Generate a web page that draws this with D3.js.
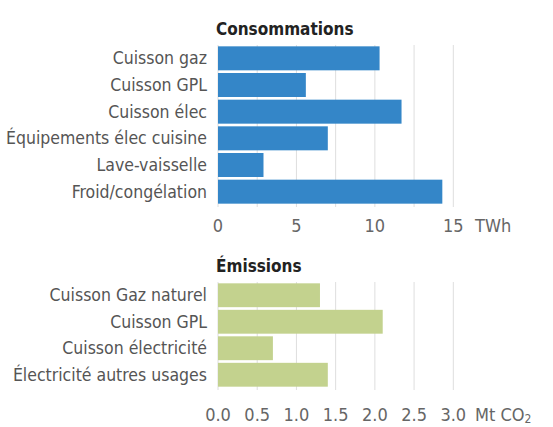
<!DOCTYPE html>
<html>
<head>
<meta charset="utf-8">
<script src="https://cdn.jsdelivr.net/npm/d3@7"></script>
<style>
  body { margin: 0; background: #fff; }
  svg text { font-family: "Liberation Sans Narrow", "DejaVu Sans Condensed", sans-serif; }
</style>
</head>
<body>
<div id="chart"></div>
<script>
const WIDTH = 553;
const HEIGHT = 427;

// consommations (TWh)
const consoLabels = ["Cuisson gaz", "Cuisson GPL", "Cuisson élec", "Équipements élec cuisine", "Lave-vaisselle", "Froid/congélation"];
const consoValues = [10.3, 5.6, 11.7, 7.0, 2.9, 14.3];
const consoTicks = [0, 5, 10, 15];
const consoGrid = [0, 2.5, 5, 7.5, 10, 12.5, 15];

// émissions (Mt CO2)
const emisLabels = ["Cuisson Gaz naturel", "Cuisson GPL", "Cuisson électricité", "Électricité autres usages"];
const emisValues = [1.3, 2.1, 0.7, 1.4];
const emisTicks = [0, 0.5, 1, 1.5, 2, 2.5, 3];

const LEFT = 218;
const RIGHT = 453.3;

const svg = d3.select("#chart").append("svg")
    .attr("width", WIDTH)
    .attr("height", HEIGHT);

function panel(opts) {
    const x = d3.scaleLinear().domain([0, opts.max]).range([LEFT, RIGHT]);
    const y = d3.scaleBand().domain(opts.labels).range([opts.top, opts.bottom])
        .paddingInner(0.1).paddingOuter(0.05);

    const g = svg.append("g");

    g.append("text")
        .attr("x", LEFT - 2)
        .attr("y", opts.top - 10)
        .style("font-size", "17px")
        .style("font-weight", "bold")
        .style("fill", "#222")
        .text(opts.title);

    g.selectAll(".grid")
        .data(opts.grid).enter()
        .append("line")
        .attr("x1", d => x(d)).attr("x2", d => x(d))
        .attr("y1", opts.top).attr("y2", opts.bottom + 2)
        .style("stroke", "#dedede")
        .style("stroke-width", 1);

    g.selectAll(".bar")
        .data(opts.values).enter()
        .append("rect")
        .attr("x", x(0))
        .attr("y", (d, i) => y(opts.labels[i]))
        .attr("width", d => x(d) - x(0))
        .attr("height", y.bandwidth())
        .style("fill", opts.color);

    g.selectAll(".lab")
        .data(opts.labels).enter()
        .append("text")
        .attr("x", LEFT - 11)
        .attr("y", d => y(d) + y.bandwidth() / 2)
        .attr("dy", "0.35em")
        .attr("text-anchor", "end")
        .style("font-size", "17.5px")
        .style("fill", "#555")
        .text(d => d);

    g.selectAll(".tick")
        .data(opts.ticks).enter()
        .append("text")
        .attr("x", d => x(d))
        .attr("y", opts.tickY)
        .attr("text-anchor", "middle")
        .style("font-size", "18px")
        .style("fill", "#666")
        .text(opts.fmt);

    return g;
}

panel({
    title: "Consommations", labels: consoLabels, values: consoValues,
    max: 15, ticks: consoTicks, grid: consoGrid, fmt: d3.format("d"),
    top: 45, bottom: 205, tickY: 232, color: "#3486c8"
});

svg.append("text")
    .attr("x", 475).attr("y", 232)
    .style("font-size", "18px").style("fill", "#666")
    .text("TWh");

panel({
    title: "Émissions", labels: emisLabels, values: emisValues,
    max: 3, ticks: emisTicks, grid: emisTicks, fmt: d3.format(".1f"),
    top: 282, bottom: 388, tickY: 421, color: "#c3d28e"
});

const unit2 = svg.append("text")
    .attr("x", 475).attr("y", 421)
    .style("font-size", "18px").style("fill", "#666");
unit2.append("tspan").text("Mt CO");
unit2.append("tspan").attr("dy", 2).style("font-size", "12px").text("2");
</script>
</body>
</html>
